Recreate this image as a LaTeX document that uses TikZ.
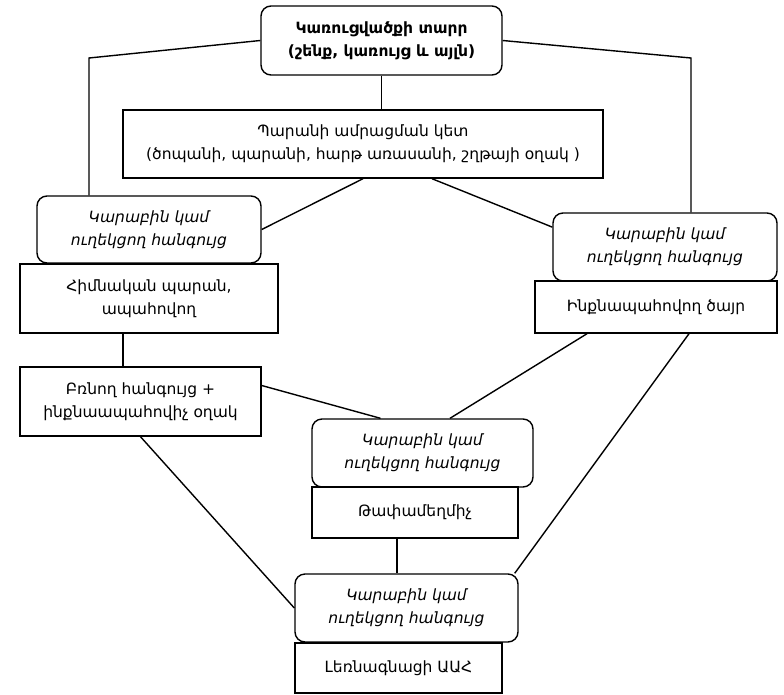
\documentclass[tikz,border=0pt]{standalone}
\usepackage{fontspec}
\setmainfont{DejaVu Sans}
\usepackage{tikz}
\usetikzlibrary{calc,positioning}
\tikzstyle{edge}  =[line width=1.4pt]
\tikzstyle{box}   =[rectangle, draw, line width=1.4pt,
                    align=center, inner sep=0pt,
                    font=\fontsize{15.5}{23}\selectfont]
\tikzstyle{knot}  =[box, rounded corners=10pt,
                    font=\fontsize{15.5}{23}\selectfont\itshape]

\begin{document}
\begin{tikzpicture}[x=1pt,y=-1pt]
\useasboundingbox (0,0) rectangle (784,694);
%%%%%%%%%%%%%%%%%%%%%%%%%%%%%%%%%%%%%%%%%%%%%%%%
%%%%%%%%%%        Anchor points       %%%%%%%%%%
%%%%%%%%%%%%%%%%%%%%%%%%%%%%%%%%%%%%%%%%%%%%%%%%
\node (top) [box,rounded corners=10pt,minimum width=241pt,minimum height=69pt,
       font=\fontsize{15.5}{23}\selectfont\bfseries] at (381.5,40.5)
       {Կառուցվածքի տարր\\(շենք, կառույց և այլն)};
\node (kets) [box,minimum width=480pt,minimum height=68pt] at (363,144)
       {Պարանի ամրացման կետ\\(ծոպանի, պարանի, հարթ առասանի, շղթայի օղակ )};

%%%%%%%%%%%%%%%%%%%%%%%%%%%%%%%%%%%%%%%%%%%%%%%%
%%%%%%%%%%         Left branch        %%%%%%%%%%
%%%%%%%%%%%%%%%%%%%%%%%%%%%%%%%%%%%%%%%%%%%%%%%%
\node (kar1) [knot,minimum width=224pt,minimum height=67pt] at (149,229.5)
       {Կարաբին կամ\\ուղեկցող հանգույց};
\node (himn) [box,minimum width=258pt,minimum height=69pt] at (149,298.5)
       {Հիմնական պարան,\\ապահովող};
\node (brn) [box,minimum width=241pt,minimum height=69pt] at (140.5,401.5)
       {Բռնող հանգույց +\\ինքնաապահովիչ օղակ};

%%%%%%%%%%%%%%%%%%%%%%%%%%%%%%%%%%%%%%%%%%%%%%%%
%%%%%%%%%%        Right branch        %%%%%%%%%%
%%%%%%%%%%%%%%%%%%%%%%%%%%%%%%%%%%%%%%%%%%%%%%%%
\node (kar2) [knot,minimum width=224pt,minimum height=68pt] at (665,247)
       {Կարաբին կամ\\ուղեկցող հանգույց};
\node (inkn) [box,minimum width=242pt,minimum height=52pt] at (656,307)
       {Ինքնապահովող ծայր};

%%%%%%%%%%%%%%%%%%%%%%%%%%%%%%%%%%%%%%%%%%%%%%%%
%%%%%%%%%%           Middle           %%%%%%%%%%
%%%%%%%%%%%%%%%%%%%%%%%%%%%%%%%%%%%%%%%%%%%%%%%%
\node (kar3) [knot,minimum width=221pt,minimum height=68pt] at (422.5,453)
       {Կարաբին կամ\\ուղեկցող հանգույց};
\node (thaf) [box,minimum width=206pt,minimum height=51pt] at (415,512.5)
       {Թափամեղմիչ};
\node (kar4) [knot,minimum width=223pt,minimum height=68pt] at (406.5,608)
       {Կարաբին կամ\\ուղեկցող հանգույց};
\node (lern) [box,minimum width=207pt,minimum height=50pt] at (398.5,668)
       {Լեռնագնացի ԱԱՀ};

%%%%%%%%%%%%%%%%%%%%%%%%%%%%%%%%%%%%%%%%%%%%%%%%
%%%%%%%%%%         Connectors         %%%%%%%%%%
%%%%%%%%%%%%%%%%%%%%%%%%%%%%%%%%%%%%%%%%%%%%%%%%
\coordinate (cL) at (89,58);
\coordinate (cR) at (691,58);
\draw [edge] (top.west) -- (cL) -- (cL |- kar1.north);
\draw [edge] (top.east) -- (cR) -- (cR |- kar2.north);
\draw [edge] (top.south) -- (top.south |- kets.north);
\draw [edge] (kets.south) -- (kar1.east);
\draw [edge] ([xshift=69pt]kets.south) -- (kar2.170);
\draw [edge] ([xshift=-26pt]himn.south) -- ([xshift=-17.5pt]brn.north);
\draw [edge] ([yshift=16pt]brn.east) -- ([xshift=-42pt]kar3.north);
\draw [edge] ([xshift=-69pt]inkn.south) -- ([xshift=27.5pt]kar3.north);
\draw [edge] ([xshift=33pt]inkn.south) -- ([xshift=-4pt]kar4.north east);
\draw [edge] (brn.south) -- (kar4.west);
\draw [edge] ([xshift=-18pt]thaf.south) -- ([xshift=-9.5pt]kar4.north);

\end{tikzpicture}
\end{document}
